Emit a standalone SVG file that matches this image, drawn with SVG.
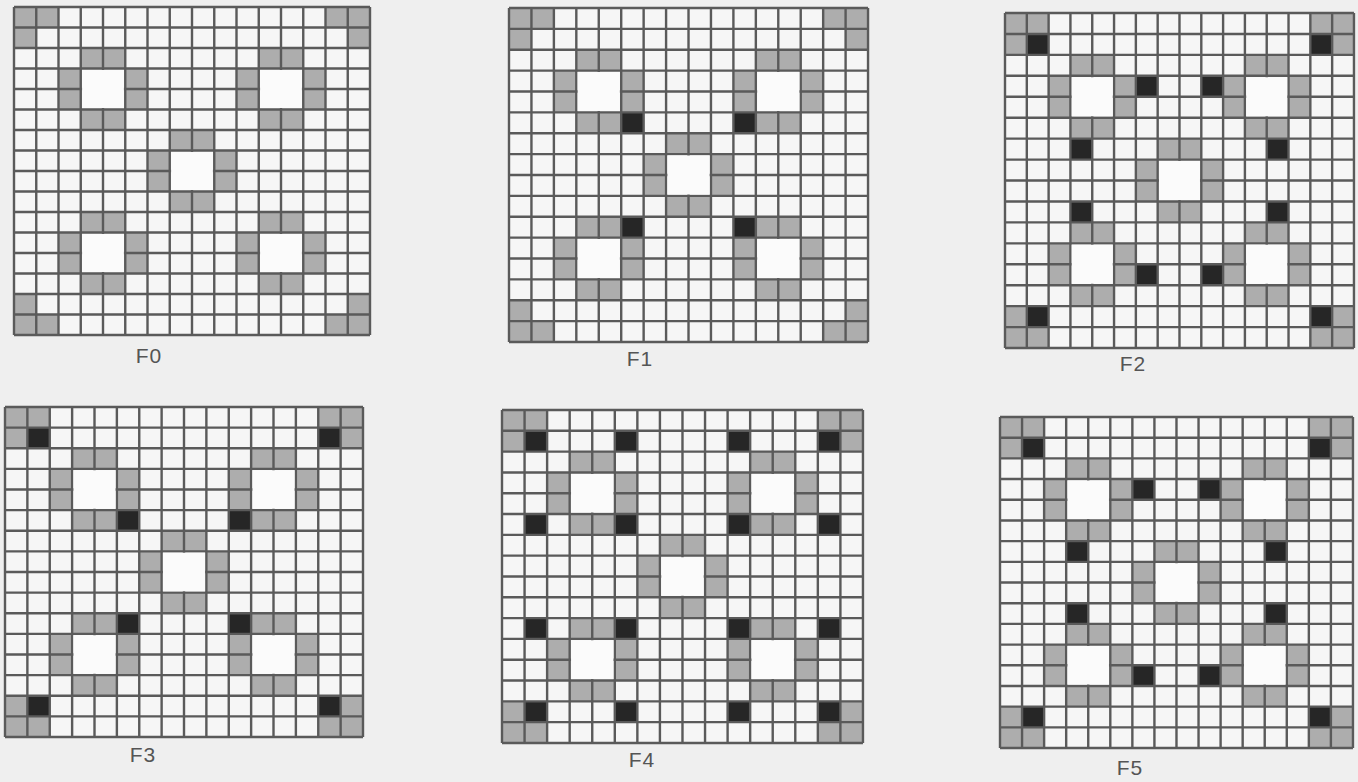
<svg xmlns="http://www.w3.org/2000/svg" xmlns:xlink="http://www.w3.org/1999/xlink" width="1358" height="782" viewBox="0 0 1358 782">
<style>
.lbl{font-family:"Liberation Sans",Arial,sans-serif;font-size:21px;fill:#555;text-anchor:middle;letter-spacing:1px}
.gl{fill:none;stroke:#5a5a5a;stroke-width:2.4;vector-effect:non-scaling-stroke}
.bk{fill:#262626}
</style>
<defs>
<g id="cells">
<rect x="0" y="0" width="16" height="16" fill="#f6f6f6"/>
<path fill="#adadad" d="M0 0h1v1h-1zM1 0h1v1h-1zM0 1h1v1h-1zM14 0h1v1h-1zM15 0h1v1h-1zM15 1h1v1h-1zM0 14h1v1h-1zM0 15h1v1h-1zM1 15h1v1h-1zM15 14h1v1h-1zM14 15h1v1h-1zM15 15h1v1h-1z
M3 2h1v1h-1zM4 2h1v1h-1zM2 3h1v1h-1zM2 4h1v1h-1zM5 3h1v1h-1zM5 4h1v1h-1zM3 5h1v1h-1zM4 5h1v1h-1z
M11 2h1v1h-1zM12 2h1v1h-1zM10 3h1v1h-1zM10 4h1v1h-1zM13 3h1v1h-1zM13 4h1v1h-1zM11 5h1v1h-1zM12 5h1v1h-1z
M7 6h1v1h-1zM8 6h1v1h-1zM6 7h1v1h-1zM6 8h1v1h-1zM9 7h1v1h-1zM9 8h1v1h-1zM7 9h1v1h-1zM8 9h1v1h-1z
M3 10h1v1h-1zM4 10h1v1h-1zM2 11h1v1h-1zM2 12h1v1h-1zM5 11h1v1h-1zM5 12h1v1h-1zM3 13h1v1h-1zM4 13h1v1h-1z
M11 10h1v1h-1zM12 10h1v1h-1zM10 11h1v1h-1zM10 12h1v1h-1zM13 11h1v1h-1zM13 12h1v1h-1zM11 13h1v1h-1zM12 13h1v1h-1z"/>
</g>
<g id="lines">
<path class="gl" d="M0 0H16M0 1H16M0 2H16M0 3H16M0 4H16M0 5H16M0 6H16M0 7H16M0 8H16M0 9H16M0 10H16M0 11H16M0 12H16M0 13H16M0 14H16M0 15H16M0 16H16
M0 0V16M1 0V16M2 0V16M3 0V16M4 0V16M5 0V16M6 0V16M7 0V16M8 0V16M9 0V16M10 0V16M11 0V16M12 0V16M13 0V16M14 0V16M15 0V16M16 0V16"/>
<path fill="#fbfbfb" d="M3.06 3.07H4.94V4.93H3.06zM11.06 3.07H12.94V4.93H11.06zM7.06 7.07H8.94V8.93H7.06zM3.06 11.07H4.94V12.93H3.06zM11.06 11.07H12.94V12.93H11.06z"/>
</g>
<path id="bF1" d="M5 5h1v1h-1zM10 5h1v1h-1zM5 10h1v1h-1zM10 10h1v1h-1z"/>
<path id="bF2" d="M1 1h1v1h-1zM14 1h1v1h-1zM6 3h1v1h-1zM9 3h1v1h-1zM3 6h1v1h-1zM12 6h1v1h-1zM3 9h1v1h-1zM12 9h1v1h-1zM6 12h1v1h-1zM9 12h1v1h-1zM1 14h1v1h-1zM14 14h1v1h-1z"/>
<path id="bF3" d="M1 1h1v1h-1zM14 1h1v1h-1zM5 5h1v1h-1zM10 5h1v1h-1zM5 10h1v1h-1zM10 10h1v1h-1zM1 14h1v1h-1zM14 14h1v1h-1z"/>
<path id="bF4" d="M1 1h1v1h-1zM5 1h1v1h-1zM10 1h1v1h-1zM14 1h1v1h-1zM1 5h1v1h-1zM5 5h1v1h-1zM10 5h1v1h-1zM14 5h1v1h-1zM1 10h1v1h-1zM5 10h1v1h-1zM10 10h1v1h-1zM14 10h1v1h-1zM1 14h1v1h-1zM5 14h1v1h-1zM10 14h1v1h-1zM14 14h1v1h-1z"/>
</defs>
<rect width="1358" height="782" fill="#efefef"/>

<g id="F0">
<g transform="translate(14,7) scale(22.25,20.5)">
<use href="#cells"/>
<use href="#lines"/>
</g>
<text class="lbl" x="149" y="363">F0</text>
</g>

<g id="F1">
<g transform="translate(509,8) scale(22.44,20.875)">
<use href="#cells"/>
<use href="#bF1" class="bk"/>
<use href="#lines"/>
</g>
<text class="lbl" x="640" y="366">F1</text>
</g>

<g id="F2">
<g transform="translate(1005,13) scale(21.81,20.94)">
<use href="#cells"/>
<use href="#bF2" class="bk"/>
<use href="#lines"/>
</g>
<text class="lbl" x="1133" y="371">F2</text>
</g>

<g id="F3">
<g transform="translate(5,407) scale(22.375,20.625)">
<use href="#cells"/>
<use href="#bF3" class="bk"/>
<use href="#lines"/>
</g>
<text class="lbl" x="143" y="762">F3</text>
</g>

<g id="F4">
<g transform="translate(502,410) scale(22.56,20.81)">
<use href="#cells"/>
<use href="#bF4" class="bk"/>
<use href="#lines"/>
</g>
<text class="lbl" x="642" y="767">F4</text>
</g>

<g id="F5">
<g transform="translate(1000,417) scale(22.06,20.69)">
<use href="#cells"/>
<use href="#bF2" class="bk"/>
<use href="#lines"/>
</g>
<text class="lbl" x="1130" y="775">F5</text>
</g>
</svg>
